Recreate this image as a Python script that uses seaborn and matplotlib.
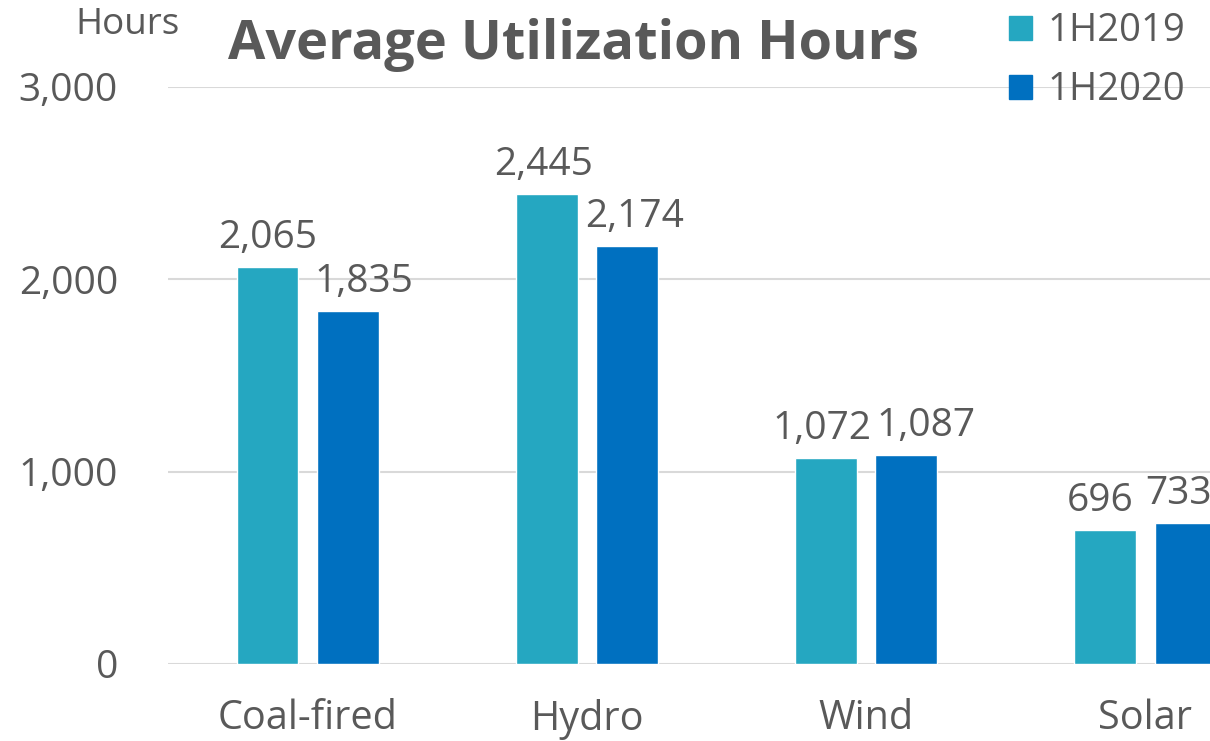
import pandas as pd
import seaborn as sns
import matplotlib.pyplot as plt
from matplotlib.patches import Patch

# chart data
categories = ["Coal-fired", "Hydro", "Wind", "Solar"]
hours_2019 = [2065, 2445, 1072, 696]
hours_2020 = [1835, 2174, 1087, 733]
periods = ["1H2019", "1H2020"]

df = pd.DataFrame({
    "Type": categories * 2,
    "Hours": hours_2019 + hours_2020,
    "Period": [periods[0]] * len(categories) + [periods[1]] * len(categories),
})

sns.set_style("white")
plt.rcParams["font.family"] = ["Open Sans", "DejaVu Sans"]
grey = "#595959"
palette = {"1H2019": "#25A7C1", "1H2020": "#0070C0"}

fig = plt.figure(figsize=(12.1, 7.41), dpi=100)
ax = fig.add_axes([168 / 1210, 77 / 741, 1117 / 1210, 577 / 741])

sns.barplot(data=df, x="Type", y="Hours", hue="Period", palette=palette,
            width=0.574, gap=0.23, ax=ax, legend=False, saturation=1)

ax.set_xlim(-0.5, 3.5)
ax.set_ylim(0, 3000)
ax.set_yticks([0, 1000, 2000, 3000])
ax.yaxis.set_major_formatter(plt.FuncFormatter(lambda v, p: f"{int(v):,}"))
ax.grid(axis="y", color="#D9D9D9", linewidth=1.5)
ax.set_axisbelow(True)
for s in ax.spines.values():
    s.set_visible(False)
ax.tick_params(axis="y", length=0, pad=36, labelsize=28, labelcolor=grey)
ax.tick_params(axis="x", length=0, pad=25, labelsize=28.5, labelcolor=grey)
ax.set_xlabel("")
ax.set_ylabel("")

# value labels, nudged sideways like the original so they don't collide
nudges = [[0, -3, -4, -5], [16, 8, 20, -7]]
for cont, dxs in zip(ax.containers, nudges):
    for bar, v, dx in zip(cont, cont.datavalues, dxs):
        ax.annotate(f"{int(v):,}", (bar.get_x() + bar.get_width() / 2, v),
                    xytext=(dx * 0.72, 7), textcoords="offset points",
                    ha="center", va="bottom", fontsize=28, color=grey)

handles = [Patch(color=palette[p]) for p in periods]
fig.legend(handles, periods, loc="upper right", bbox_to_anchor=(1.008, 1.03),
           frameon=False, fontsize=27.5, labelcolor=grey, handlelength=0.6,
           handleheight=0.6, handletextpad=0.4, labelspacing=0.55)

fig.text(75 / 1210, 1 - 25 / 741, "Hours", fontsize=26.5, color=grey, va="center")
fig.text(573 / 1210, 1 - 45 / 741, "Average Utilization Hours", fontsize=39,
         fontweight="bold", color=grey, ha="center", va="center")

fig.savefig("out.png", dpi=100)
